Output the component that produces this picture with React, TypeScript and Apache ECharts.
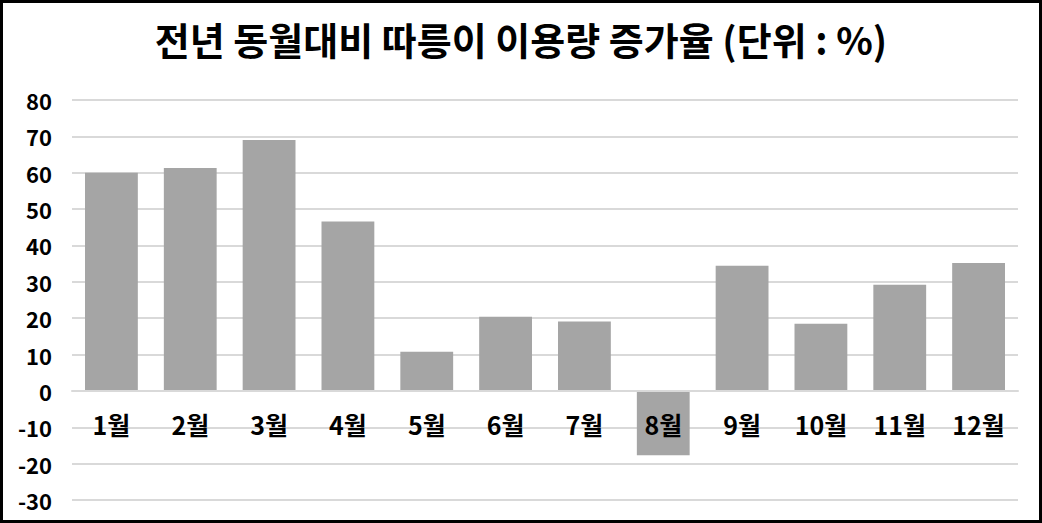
import React, { useEffect, useRef } from "react";
import * as echarts from "echarts";

const titleText = "전년 동월대비 따릉이 이용량 증가율 (단위 : %)";
const months = ["1월", "2월", "3월", "4월", "5월", "6월", "7월", "8월", "9월", "10월", "11월", "12월"];
const growth = [60.0, 61.3, 69.0, 46.6, 10.8, 20.4, 19.1, -17.7, 34.4, 18.5, 29.2, 35.2];
const yMin = -30;
const yMax = 80;
const yStep = 10;

const FONT = '"Noto Sans CJK KR", "Noto Sans", sans-serif';

const GRID_TOP = 100;
const GRID_BOTTOM = 23;
const CHART_H = 523;

export default function App() {
  const ref = useRef<HTMLDivElement>(null);
  useEffect(() => {
    document.body.style.margin = "0";
    const chart = echarts.init(ref.current!, null, { renderer: "svg" });
    const gridH = CHART_H - GRID_TOP - GRID_BOTTOM;
    const zeroFromBottom = ((0 - yMin) / (yMax - yMin)) * gridH;
    chart.setOption({
      animation: false,
      backgroundColor: "#ffffff",
      title: {
        text: titleText,
        left: "center",
        top: 14,
        textStyle: { fontFamily: FONT, fontSize: 38, fontWeight: "bold", color: "#000" },
      },
      grid: { left: 72, right: 24, top: GRID_TOP, bottom: GRID_BOTTOM, containLabel: false, outerBoundsMode: "none" },
      xAxis: {
        type: "category",
        data: months,
        z: 5,
        position: "bottom",
        offset: -zeroFromBottom,
        axisLine: { show: true, onZero: false, lineStyle: { color: "#d9d9d9", width: 2 } },
        axisTick: { show: false },
        axisLabel: {
          margin: 21,
          fontFamily: FONT,
          fontSize: 25,
          fontWeight: "bold",
          color: "#000",
        },
      },
      yAxis: {
        type: "value",
        min: yMin,
        max: yMax,
        interval: yStep,
        axisLine: { show: false },
        axisTick: { show: false },
        splitLine: { lineStyle: { color: "#d9d9d9", width: 2 } },
        axisLabel: {
          margin: 20,
          fontFamily: FONT,
          fontSize: 22,
          fontWeight: "bold",
          color: "#000",
        },
      },
      series: [
        {
          type: "bar",
          data: growth,
          barCategoryGap: "33%",
          itemStyle: { color: "#a5a5a5" },
        },
      ],
      graphic: [
        {
          type: "rect",
          shape: { x: 1.5, y: 1.5, width: 1039, height: 520 },
          style: { fill: "none", stroke: "#000", lineWidth: 3 },
          z: 10,
        },
      ],
    });
    return () => chart.dispose();
  }, []);
  return <div ref={ref} style={{ width: 1042, height: 523, position: "absolute", left: 0, top: 0 }} />;
}
